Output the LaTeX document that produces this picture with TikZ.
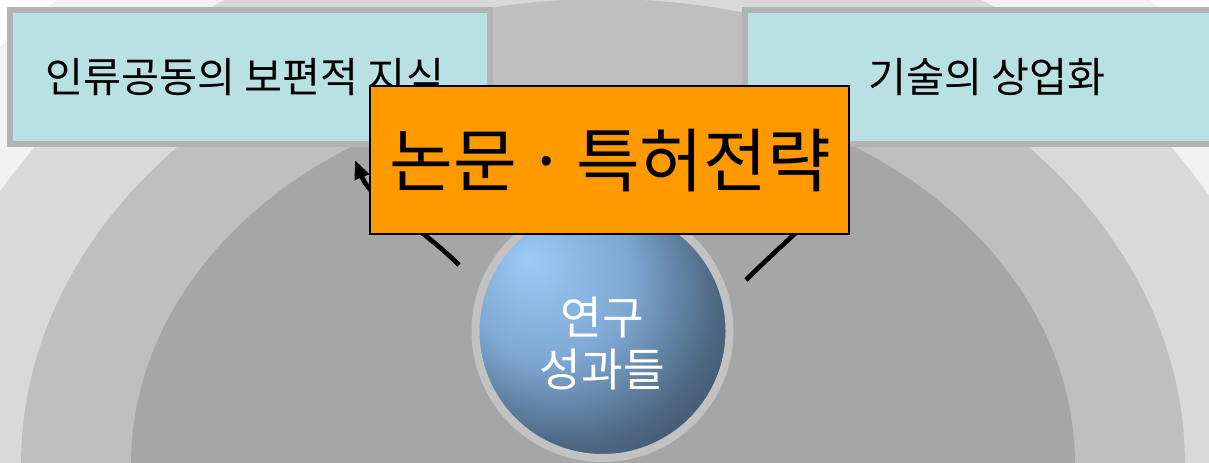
\documentclass[tikz,border=0pt]{standalone}
\usepackage{fontspec}
\newfontfamily\cjk{Noto Sans CJK KR}
\usetikzlibrary{arrows.meta}
\definecolor{layA}{HTML}{F2F2F2}
\definecolor{layB}{HTML}{D9D9D9}
\definecolor{layC}{HTML}{BFBFBF}
\definecolor{layD}{HTML}{A6A6A6}
\definecolor{panelfill}{HTML}{B9E0E3}
\definecolor{panelline}{HTML}{B3B3B3}
\definecolor{orangefill}{HTML}{FF9900}
\definecolor{ringcol}{HTML}{C2C2C2}
\definecolor{orbA}{HTML}{9CCAF7}
\definecolor{orbB}{HTML}{7FA8D4}
\definecolor{orbC}{HTML}{4D6680}
\definecolor{orbD}{HTML}{3C4D62}
\definecolor{orbE}{HTML}{36465A}
\pgfdeclareradialshading{orbsh}{\pgfpoint{-14.9bp}{14.4bp}}{color(0bp)=(orbA); color(16.3bp)=(orbB); color(30.1bp)=(orbC); color(39.4bp)=(orbD); color(49.2bp)=(orbE); color(60bp)=(orbE)}
\tikzset{
  panel/.style={draw=panelline, fill=panelfill, line width=4.5pt, minimum width=360pt, minimum height=100.5pt, inner sep=0pt, font=\cjk\fontsize{31pt}{36pt}\selectfont},
  bigbox/.style={draw=black, fill=orangefill, line width=2pt, minimum width=359.25pt, minimum height=111pt, inner sep=0pt},
  bigtext/.style={inner sep=0pt, font=\cjk\fontsize{52pt}{60pt}\selectfont},
  orb/.style={circle, draw=ringcol, line width=6pt, minimum size=190.5pt, inner sep=0pt, shade, shading=orbsh},
  orbtext/.style={align=center, text=white, font=\cjk\fontsize{34pt}{39pt}\selectfont},
  conn/.style={line width=3.5pt, draw=black, -{Triangle[length=14pt,width=11pt]}}
}
\begin{document}
\begin{tikzpicture}[x=0.75pt, y=-0.75pt]
\useasboundingbox (0,0) rectangle (1209,462);
\fill[white] (0,0) rectangle (1209,462);
\begin{scope}
\clip (0,0) rectangle (1209,462);
\fill[layA] (603,465) ellipse [x radius=798, y radius=638];
\fill[layB] (603,465) ellipse [x radius=693, y radius=555];
\fill[layC] (603,465) ellipse [x radius=582, y radius=466];
\fill[layD] (603,465) ellipse [x radius=472, y radius=376];
\node[panel] (left) at (250,77) {\hspace*{-8pt}인류공동의 보편적 지식};
\node[panel] (right) at (985,77) {\hspace*{3pt}기술의 상업화};
\node[orb] (orb) at (602.5,331) {};
\node[orbtext] (orbtxt) at (602.5,344) {연구\\성과들};
\coordinate (lA) at (459,265);
\coordinate (lB) at (355,160);
\coordinate (rA) at (746,280);
\coordinate (rB) at (834,180);
\draw[conn] (lA) .. controls (420,226) and (372,202) .. (lB);
\draw[conn] (rA) .. controls (785,241) and (820,214) .. (rB);
\node[bigbox] (strategy) at (609.5,160) {};
\node[bigtext] (stext) at (610.5,161) {논문\makebox[44pt]{·}특허전략};
\end{scope}
\end{tikzpicture}
\end{document}
